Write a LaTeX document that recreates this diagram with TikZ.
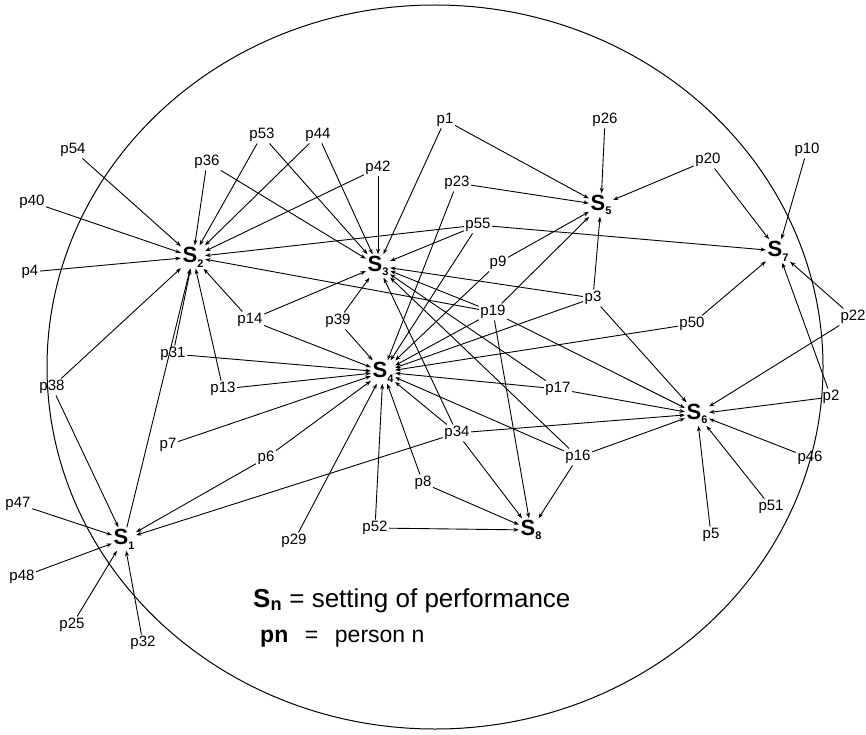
\documentclass[tikz,border=0pt]{standalone}
\usepackage{fontspec}
\setmainfont{Liberation Sans}
\usepackage{tikz}
\usetikzlibrary{arrows.meta}

% label of a setting: bold S with a small index
\newcommand{\setlab}[1]{S\raisebox{-0.4ex}{\fontsize{11}{11}\selectfont #1}}

\begin{document}
\begin{tikzpicture}[
    x = 1pt, y = -1pt,
    person/.style={
        inner sep = 1.5pt, %gap to the lines
        font = \fontsize{15}{15}\selectfont
      },
    setting/.style={
        inner sep = 1.5pt,
        font = \fontsize{22}{22}\selectfont\bfseries
      },
    link/.style={
        -{Stealth[length=5.5pt,width=4pt]},
        line width = 0.9pt
      }]
  \useasboundingbox (0,0) rectangle (866,735);
  \draw[line width=1pt] (435,367) ellipse [x radius=388, y radius=362];

  % settings of performance
  \node [setting] (s1) at (124,539) {\setlab{1}};
  \node [setting] (s2) at (193,257) {\setlab{2}};
  \node [setting] (s3) at (378,266) {\setlab{3}};
  \node [setting] (s4) at (383,372) {\setlab{4}};
  \node [setting] (s5) at (601,205) {\setlab{5}};
  \node [setting] (s6) at (697,414) {\setlab{6}};
  \node [setting] (s7) at (778,251) {\setlab{7}};
  \node [setting] (s8) at (531,530) {\setlab{8}};

  % persons
  \node [person] (p1) at (445,120) {p1};
  \node [person] (p2) at (831,397) {p2};
  \node [person] (p3) at (593,298) {p3};
  \node [person] (p4) at (30,272) {p4};
  \node [person] (p5) at (711,535) {p5};
  \node [person] (p6) at (266,458) {p6};
  \node [person] (p7) at (168,445) {p7};
  \node [person] (p8) at (423,483) {p8};
  \node [person] (p9) at (498,263) {p9};
  \node [person] (p10) at (807,150) {p10};
  \node [person] (p13) at (223,389) {p13};
  \node [person] (p14) at (250,320) {p14};
  \node [person] (p16) at (578,457) {p16};
  \node [person] (p17) at (558,389) {p17};
  \node [person] (p19) at (493,312) {p19};
  \node [person] (p20) at (708,160) {p20};
  \node [person] (p22) at (853,317) {p22};
  \node [person] (p23) at (457,183) {p23};
  \node [person] (p25) at (72,625) {p25};
  \node [person] (p26) at (605,120) {p26};
  \node [person] (p29) at (294,541) {p29};
  \node [person] (p31) at (173,354) {p31};
  \node [person] (p32) at (143,643) {p32};
  \node [person] (p34) at (457,433) {p34};
  \node [person] (p36) at (207,162) {p36};
  \node [person] (p38) at (52,387) {p38};
  \node [person] (p39) at (338,321) {p39};
  \node [person] (p40) at (32,202) {p40};
  \node [person] (p42) at (378,168) {p42};
  \node [person] (p44) at (318,135) {p44};
  \node [person] (p46) at (810,458) {p46};
  \node [person] (p47) at (18,504) {p47};
  \node [person] (p48) at (22,577) {p48};
  \node [person] (p50) at (692,324) {p50};
  \node [person] (p51) at (771,507) {p51};
  \node [person] (p52) at (375,528) {p52};
  \node [person] (p53) at (262,135) {p53};
  \node [person] (p54) at (73,150) {p54};
  \node [person] (p55) at (478,225) {p55};

  % who goes where
  \path[link] (p1) edge (s3) edge (s5);
  \path[link] (p2) edge (s7) edge (s6);
  \path[link] (p3) edge (s5) edge (s3) edge (s4) edge (s6);
  \path[link] (p4) edge (s2);
  \path[link] (p5) edge (s6);
  \path[link] (p6) edge (s4) edge (s1);
  \path[link] (p7) edge (s4);
  \path[link] (p8) edge (s4) edge (s8);
  \path[link] (p9) edge (s5) edge (s4);
  \path[link] (p10) edge (s7);
  \path[link] (p13) edge (s2) edge (s4);
  \path[link] (p14) edge (s2) edge (s3) edge (s4);
  \path[link] (p16) edge (s3) edge (s4) edge (s6) edge (s8);
  \path[link] (p17) edge (s3) edge (s4) edge (s6);
  \path[link] (p19) edge (s2) edge (s3) edge (s4) edge (s5) edge (s6) edge (s8);
  \path[link] (p20) edge (s5) edge (s7);
  \path[link] (p22) edge (s7) edge (s6);
  \path[link] (p23) edge (s5) edge (s4);
  \path[link] (p25) edge (s1);
  \path[link] (p26) edge (s5);
  \path[link] (p29) edge (s4);
  \path[link] (p31) edge (s2) edge (s4);
  \path[link] (p32) edge (s1);
  \path[link] (p34) edge (s1) edge (s3) edge (s4) edge (s6) edge (s8);
  \path[link] (p36) edge (s2) edge (s3);
  \path[link] (p38) edge (s2) edge (s1);
  \path[link] (p39) edge (s3) edge (s4);
  \path[link] (p40) edge (s2);
  \path[link] (p42) edge (s2) edge (s3);
  \path[link] (p44) edge (s2) edge (s3);
  \path[link] (p46) edge (s6);
  \path[link] (p47) edge (s1);
  \path[link] (p48) edge (s1);
  \path[link] (p50) edge (s7) edge (s4);
  \path[link] (p51) edge (s6);
  \path[link] (p52) edge (s4) edge (s8);
  \path[link] (p53) edge (s2) edge (s3);
  \path[link] (p54) edge (s2);
  \path[link] (p55) edge (s2) edge (s3) edge (s4) edge (s7);
  \draw[link] (s1) -- (s2);

  % legend
  \node [anchor=base west, inner sep=0pt, font=\fontsize{26}{26}\selectfont] (key1) at (253,607)
    {\textbf{S}\textsubscript{\textbf{n}} = setting of performance};
  \node [anchor=base west, inner sep=0pt, font=\fontsize{23}{23}\selectfont] (key2) at (260,642)
    {\textbf{pn}\ \ \,=\ \ \,person n};
\end{tikzpicture}
\end{document}
